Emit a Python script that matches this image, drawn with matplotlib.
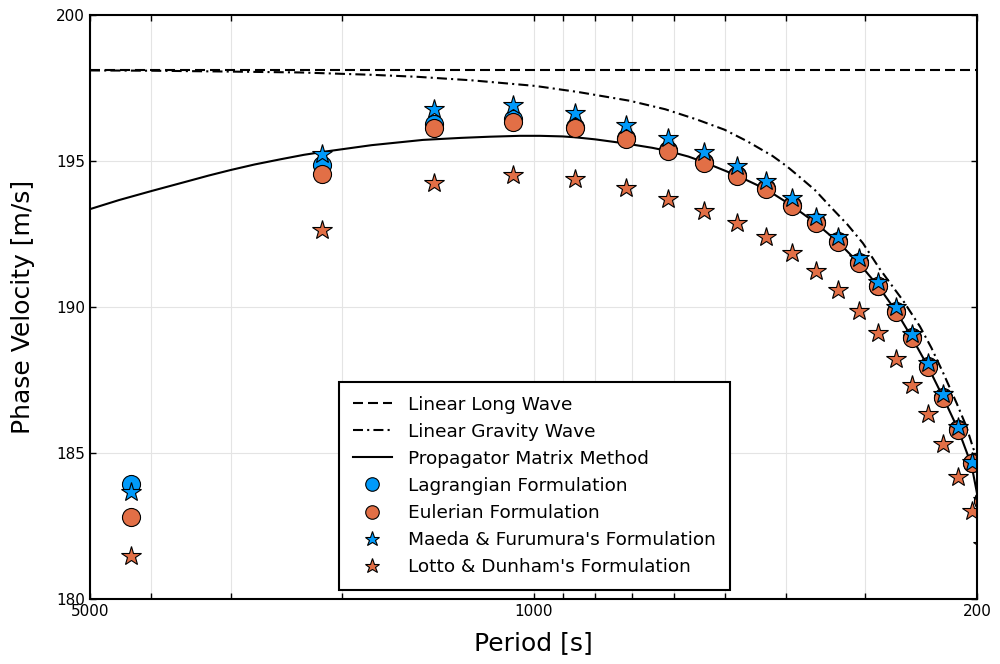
import numpy as np
import matplotlib
matplotlib.use("Agg")
import matplotlib.pyplot as plt
from matplotlib.ticker import FixedLocator, FixedFormatter


# periods of the discrete modes [s]
period = [4307, 2154, 1435, 1077, 860, 715, 614, 539, 478, 430, 391,
          359, 331, 307, 286, 268, 253, 239, 226, 214, 204, 196]

lagrangian = [183.94, 194.86, 196.25, 196.42, 196.17, 195.80, 195.39, 194.98,
              194.53, 194.06, 193.50, 192.90, 192.25, 191.53, 190.73, 189.87,
              188.96, 187.98, 186.91, 185.81, 184.67, 183.38]
eulerian = [182.80, 194.54, 196.14, 196.35, 196.12, 195.75, 195.35, 194.94,
            194.50, 194.03, 193.46, 192.87, 192.22, 191.50, 190.70, 189.84,
            188.93, 187.96, 186.89, 185.79, 184.65, 183.36]
maeda = [183.67, 195.24, 196.77, 196.92, 196.65, 196.22, 195.78, 195.32,
         194.84, 194.32, 193.74, 193.09, 192.41, 191.67, 190.87, 189.99,
         189.08, 188.07, 187.02, 185.90, 184.70, 183.40]
lotto = [181.48, 192.64, 194.26, 194.51, 194.37, 194.06, 193.69, 193.30,
         192.89, 192.39, 191.86, 191.24, 190.58, 189.87, 189.10, 188.21,
         187.31, 186.33, 185.30, 184.19, 183.01, 181.85]

# continuous curves
long_period = [5000, 200]
long_wave = [198.1, 198.1]

grav_period = [5000, 4000, 3000, 2333, 1800, 1521, 1250, 995, 850, 705, 620,
               553, 500, 461, 420, 399, 384, 360, 341, 320, 302.5, 285, 270,
               261.6, 246, 236, 226, 215.3, 208, 202.7, 200]
grav_wave = [198.10, 198.09, 198.06, 198.03, 197.95, 197.88, 197.76, 197.57,
             197.36, 197.06, 196.77, 196.42, 196.07, 195.68, 195.17, 194.82,
             194.52, 194.00, 193.45, 192.82, 192.18, 191.32, 190.62, 190.22,
             189.33, 188.60, 187.73, 186.70, 185.92, 185.15, 184.90]

pm_period = [5000, 4500, 4000, 3500, 3250, 3000, 2750, 2500, 2300, 2147,
             1800, 1494, 1300, 1171, 1050, 977, 900, 860, 800, 717, 650,
             614, 570, 539, 478, 430, 391, 359, 331, 307, 286, 268, 253,
             239, 226, 214, 204, 200]
pm_velocity = [193.35, 193.66, 193.97, 194.31, 194.50, 194.69, 194.88,
               195.06, 195.21, 195.31, 195.54, 195.72, 195.79, 195.83,
               195.86, 195.86, 195.84, 195.81, 195.74, 195.60, 195.45,
               195.34, 195.15, 194.96, 194.50, 194.03, 193.46, 192.87,
               192.22, 191.50, 190.70, 189.84, 188.93, 187.96, 186.89,
               185.79, 184.58, 183.62]

xticks = [5000, 4000, 3000, 2000, 1000, 900, 800, 700, 600, 500, 400, 300, 200]
xlabels = ["5000", "", "", "", "1000", "", "", "", "", "", "", "", "200"]
yticks = [180, 185, 190, 195, 200]

blue = "#009AFA"
orange = "#E26F46"

fig = plt.figure(figsize=(10, 6.64), dpi=100)
ax = fig.add_axes([0.09, 0.098, 0.887, 0.8795])

ax.plot(long_period, long_wave, color="black", lw=1.5, dashes=(4.8, 2.4),
        label="Linear Long Wave")
ax.plot(grav_period, grav_wave, color="black", lw=1.5, dashes=(4.8, 2, 1, 2),
        label="Linear Gravity Wave")
ax.plot(pm_period, pm_velocity, color="black", lw=1.5,
        label="Propagator Matrix Method")

ax.plot(period, lagrangian, "o", ms=13, mfc=blue, mec="black", mew=0.8,
        label="Lagrangian Formulation")
ax.plot(period, eulerian, "o", ms=13, mfc=orange, mec="black", mew=0.8,
        label="Eulerian Formulation")
ax.plot(period, maeda, "*", ms=15, mfc=blue, mec="black", mew=0.8,
        label="Maeda & Furumura's Formulation")
ax.plot(period, lotto, "*", ms=15, mfc=orange, mec="black", mew=0.8,
        label="Lotto & Dunham's Formulation")

ax.set_xscale("log")
ax.set_xlim(5000, 200)
ax.set_ylim(180, 200)
ax.xaxis.set_major_locator(FixedLocator(xticks))
ax.xaxis.set_major_formatter(FixedFormatter(xlabels))
ax.xaxis.set_minor_locator(FixedLocator([]))
ax.set_yticks(yticks)
ax.set_yticklabels([str(y) for y in yticks])

ax.grid(True, color="#e4e4e4", lw=0.8)
ax.set_axisbelow(True)
ax.tick_params(direction="in", top=True, right=True, length=4.5, width=1.0,
               labelsize=11)
for sp in ax.spines.values():
    sp.set_linewidth(1.5)

ax.set_xlabel("Period [s]", fontsize=18, labelpad=9)
ax.set_ylabel("Phase Velocity [m/s]", fontsize=18, labelpad=15)

leg = ax.legend(loc="lower left", bbox_to_anchor=(0.2807, 0.0154),
                borderaxespad=0, fontsize=13.3, fancybox=False,
                edgecolor="black", framealpha=1, labelspacing=0.49,
                handlelength=2.1, handletextpad=0.9, borderpad=0.75,
                markerscale=0.75)
leg.get_frame().set_linewidth(1.5)

fig.savefig("out.png", dpi=100)
